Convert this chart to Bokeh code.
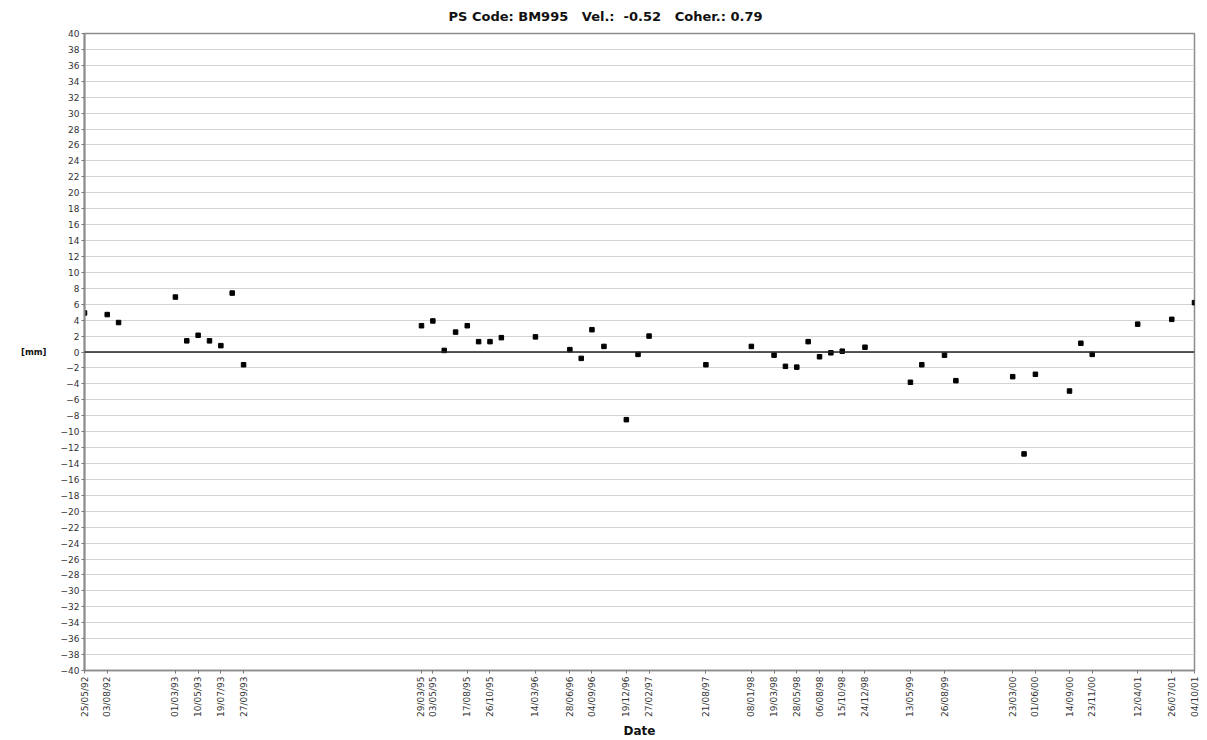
import math
import pandas as pd
from bokeh.plotting import figure
from bokeh.models import (Range1d, FixedTicker, DatetimeTickFormatter, Span,
                          ColumnDataSource)
from bokeh.embed import file_html
from bokeh.resources import INLINE

# Acquisition dates and displacement (mm) of the PS point
dates = [
    "1992-05-25", "1992-08-03", "1992-09-07", "1993-03-01", "1993-04-05",
    "1993-05-10", "1993-06-14", "1993-07-19", "1993-08-23", "1993-09-27",
    "1995-03-29", "1995-05-03", "1995-06-07", "1995-07-12", "1995-08-17",
    "1995-09-21", "1995-10-26", "1995-11-30", "1996-03-14", "1996-06-28",
    "1996-08-02", "1996-09-04", "1996-10-11", "1996-12-19", "1997-01-24",
    "1997-02-27", "1997-08-21", "1998-01-08", "1998-03-19", "1998-04-23",
    "1998-05-28", "1998-07-02", "1998-08-06", "1998-09-10", "1998-10-15",
    "1998-12-24", "1999-05-13", "1999-06-17", "1999-08-26", "1999-09-30",
    "2000-03-23", "2000-04-27", "2000-06-01", "2000-09-14", "2000-10-19",
    "2000-11-23", "2001-04-12", "2001-07-26", "2001-10-04",
]
disp_mm = [
    4.9, 4.7, 3.7, 6.9, 1.4,
    2.1, 1.4, 0.8, 7.4, -1.6,
    3.3, 3.9, 0.2, 2.5, 3.3,
    1.3, 1.3, 1.8, 1.9, 0.3,
    -0.8, 2.8, 0.7, -8.5, -0.3,
    2.0, -1.6, 0.7, -0.4, -1.8,
    -1.9, 1.3, -0.6, -0.1, 0.1,
    0.6, -3.8, -1.6, -0.4, -3.6,
    -3.1, -12.8, -2.8, -4.9, 1.1,
    -0.3, 3.5, 4.1, 6.2,
]

# Dates that carry a tick label on the time axis
tick_dates = [
    "1992-05-25", "1992-08-03", "1993-03-01", "1993-05-10", "1993-07-19",
    "1993-09-27", "1995-03-29", "1995-05-03", "1995-08-17", "1995-10-26",
    "1996-03-14", "1996-06-28", "1996-09-04", "1996-12-19", "1997-02-27",
    "1997-08-21", "1998-01-08", "1998-03-19", "1998-05-28", "1998-08-06",
    "1998-10-15", "1998-12-24", "1999-05-13", "1999-08-26", "2000-03-23",
    "2000-06-01", "2000-09-14", "2000-11-23", "2001-04-12", "2001-07-26",
    "2001-10-04",
]
y_ticks = list(range(-40, 41, 2))

title_text = "PS Code: BM995\u00a0\u00a0\u00a0Vel.:\u00a0\u00a0-0.52\u00a0\u00a0\u00a0Coher.: 0.79"


def to_ms(s):
    return pd.Timestamp(s).value / 1e6


x_ms = [to_ms(d) for d in dates]
src = ColumnDataSource(dict(x=x_ms, y=disp_mm))

p = figure(
    width=1207, height=740,
    x_axis_type="datetime",
    x_range=Range1d(to_ms(tick_dates[0]), to_ms(tick_dates[-1])),
    y_range=Range1d(-40, 40),
    output_backend="svg", toolbar_location=None,
    min_border_left=84, min_border_right=13,
    min_border_top=33, min_border_bottom=69,
    background_fill_color="white", border_fill_color="white",
)

# Heading
p.title.text = title_text
p.title.text_font = "DejaVu Sans"
p.title.text_font_size = "13px"
p.title.text_font_style = "bold"
p.title.text_color = "#111111"
p.title.align = "left"
p.title.offset = 364
p.title.standoff = 16
p.title.vertical_align = "top"

p.outline_line_color = "#8c8c8c"
p.outline_line_width = 1.5

# Grid: horizontal lines only
p.xgrid.grid_line_color = None
p.ygrid.ticker = FixedTicker(ticks=y_ticks)
p.ygrid.grid_line_color = "#d4d4d4"
p.ygrid.grid_line_width = 1.2

# Y axis
p.yaxis.ticker = FixedTicker(ticks=y_ticks)
p.yaxis.axis_label = "[mm]"
p.yaxis.axis_label_orientation = "horizontal"
p.yaxis.axis_label_standoff = 11
p.yaxis.axis_label_text_font = "DejaVu Sans"
p.yaxis.axis_label_text_font_size = "8.5px"
p.yaxis.axis_label_text_font_style = "bold"
p.yaxis.axis_label_text_color = "#111111"
p.yaxis.major_label_text_font = "DejaVu Sans"
p.yaxis.major_label_text_font_size = "9px"
p.yaxis.major_label_text_color = "#333333"
p.yaxis.major_label_standoff = 2
p.yaxis.axis_line_color = "#8c8c8c"
p.yaxis.axis_line_width = 2
p.yaxis.major_tick_line_color = "#777777"
p.yaxis.major_tick_out = 3
p.yaxis.major_tick_in = 0
p.yaxis.minor_tick_line_color = None

# X axis (dates)
fmt = "%d/%m/%y"
p.xaxis.ticker = FixedTicker(ticks=[to_ms(d) for d in tick_dates])
p.xaxis.formatter = DatetimeTickFormatter(
    microseconds=fmt, milliseconds=fmt, seconds=fmt, minsec=fmt,
    minutes=fmt, hourmin=fmt, hours=fmt, days=fmt, months=fmt, years=fmt,
    strip_leading_zeros=False,
)
p.xaxis.major_label_orientation = math.pi / 2
p.xaxis.major_label_text_font = "DejaVu Sans"
p.xaxis.major_label_text_font_size = "9px"
p.xaxis.major_label_text_color = "#333333"
p.xaxis.major_label_standoff = 3
p.xaxis.axis_label = "Date"
p.xaxis.axis_label_standoff = 4
p.xaxis.axis_label_text_font = "DejaVu Sans"
p.xaxis.axis_label_text_font_size = "12px"
p.xaxis.axis_label_text_font_style = "bold"
p.xaxis.axis_label_text_color = "#111111"
p.xaxis.axis_line_color = "#8c8c8c"
p.xaxis.axis_line_width = 1.5
p.xaxis.major_tick_line_color = "#777777"
p.xaxis.major_tick_out = 3
p.xaxis.major_tick_in = 0
p.xaxis.minor_tick_line_color = None

# Zero reference line
p.add_layout(Span(location=0, dimension="width", line_color="#222222", line_width=1.3))

# Measurements
p.scatter("x", "y", source=src, marker="square", size=4.5,
          fill_color="black", line_color="black")

open("out.html", "w").write(file_html(p, INLINE))
